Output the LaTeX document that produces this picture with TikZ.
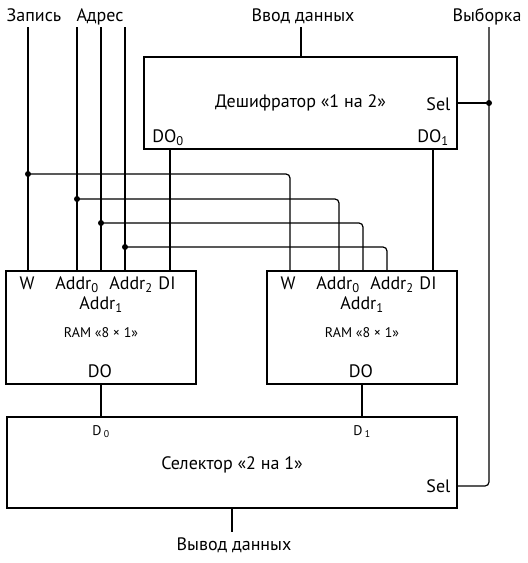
\documentclass[tikz,border=0pt]{standalone}
\usepackage{fontspec}
\setmainfont{PT Sans}
\usetikzlibrary{positioning}
\begin{document}
\begin{tikzpicture}[x=1pt,y=-1pt,line width=1.2pt,
  blk/.style={draw,inner sep=0pt,outer sep=0pt,font=\fontsize{18}{21}\selectfont},
  lbl/.style={inner sep=0pt,anchor=base,font=\fontsize{18}{21}\selectfont},
  sml/.style={inner sep=0pt,anchor=base,font=\fontsize{14}{17}\selectfont},
  dot/.style={circle,fill,inner sep=0pt,minimum size=6pt}]
  \useasboundingbox (0,0) rectangle (528,563);
  \node[blk,minimum width=313pt,minimum height=92pt] (dec) at (300.5,103) {Дешифратор «1 на 2»};
  \node[blk,minimum width=190pt,minimum height=113pt] (ram0) at (101,327.5) {};
  \node[blk,minimum width=190pt,minimum height=113pt] (ram1) at (362,327.5) {};
  \node[blk,minimum width=450pt,minimum height=91pt] (sel) at (232,462.5) {};
  \node[lbl] (tZap) at (34,21) {Запись};
  \node[lbl] (tAdr) at (100,21) {Адрес};
  \node[lbl] (tVvod) at (303,21) {Ввод данных};
  \node[lbl] (tVyb) at (487,21) {Выборка};
  \node[lbl,anchor=base east] (decSel) at (451,110) {Sel};
  \node[lbl] (tDO0) at (168,142) {DO\textsubscript{0}};
  \node[lbl] (tDO1) at (433,142) {DO\textsubscript{1}};
  \foreach \r/\dx in {0/0,1/261}{
    \node[lbl] (w\r) at (27+\dx,289) {W};
    \node[lbl] (adA\r) at (77+\dx,289) {Addr\textsubscript{0}};
    \node[lbl] (adC\r) at (131+\dx,289) {Addr\textsubscript{2}};
    \node[lbl] (di\r) at (167+\dx,289) {DI};
    \node[lbl] (adB\r) at (101+\dx,309) {Addr\textsubscript{1}};
    \node[sml] (cap\r) at (101+\dx,337) {RAM «8 × 1»};
    \node[lbl] (dout\r) at (100+\dx,377) {DO};
  }
  \node[sml] (tD0) at (101,435) {D\,\textsubscript{0}};
  \node[sml] (tD1) at (362,435) {D\,\textsubscript{1}};
  \node[lbl] (selT) at (232,469) {Селектор «2 на 1»};
  \node[lbl,anchor=base east] (selS) at (451,492) {Sel};
  \node[lbl] (tOut) at (234,550) {Вывод данных};
  \coordinate (vvodT) at (301,27);
  \coordinate (vybT) at (489,27);
  \coordinate (selIn) at (457,486);
  \coordinate (outE) at (232,532);
  \coordinate (o0) at (170,149);
  \coordinate (o1) at (433,149);
  \foreach \i/\xa/\xb/\y in {0/28/290/174,1/77/339/199,2/101/363/223,3/125/387/247}{
    \coordinate (in\i) at (\xa,27);
    \coordinate (j\i) at (\xa,\y);
    \coordinate (p\i) at (\xb,271);
    \draw (in\i) -- (in\i |- ram0.north);
    \draw[rounded corners=4pt] (j\i) -| (p\i);
    \node[dot] (dt\i) at (j\i) {};
  }
  \draw (vvodT) -- (vvodT |- dec.north);
  \draw (o0) -- (o0 |- ram0.north);
  \draw (o1) -- (o1 |- ram1.north);
  \draw (dec.east) -- (dec.east -| vybT);
  \node[dot] (dtS) at (dec.east -| vybT) {};
  \draw[rounded corners=4pt] (vybT) |- (selIn);
  \draw (ram0.south) -- (ram0.south |- sel.north);
  \draw (ram1.south) -- (ram1.south |- sel.north);
  \draw (sel.south) -- (outE);
\end{tikzpicture}
\end{document}
